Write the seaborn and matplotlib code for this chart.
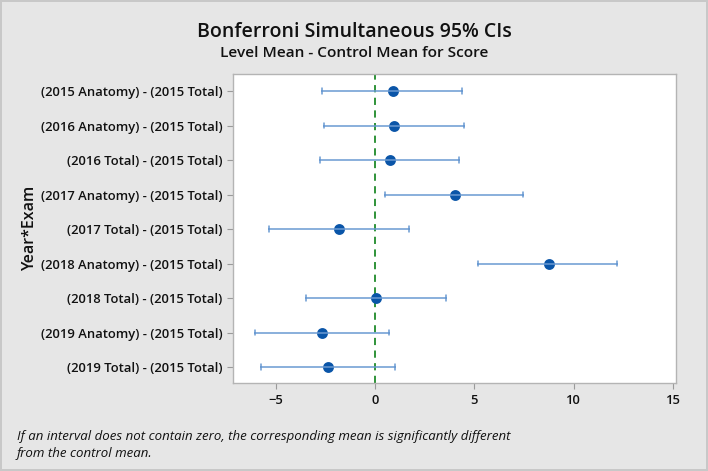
import seaborn as sns
import pandas as pd
import matplotlib.pyplot as plt

comparisons = [
    "(2015 Anatomy) - (2015 Total)",
    "(2016 Anatomy) - (2015 Total)",
    "(2016 Total) - (2015 Total)",
    "(2017 Anatomy) - (2015 Total)",
    "(2017 Total) - (2015 Total)",
    "(2018 Anatomy) - (2015 Total)",
    "(2018 Total) - (2015 Total)",
    "(2019 Anatomy) - (2015 Total)",
    "(2019 Total) - (2015 Total)",
]
means = [0.92, 0.94, 0.75, 4.04, -1.80, 8.74, 0.05, -2.65, -2.35]
lower = [-2.65, -2.58, -2.77, 0.52, -5.32, 5.20, -3.46, -6.04, -5.75]
upper = [4.39, 4.48, 4.24, 7.45, 1.71, 12.19, 3.56, 0.69, 1.02]

# long table: median of (lower, mean, upper) is the mean, the 100% interval is lower..upper
df = pd.DataFrame({
    "Year*Exam": comparisons * 3,
    "value": lower + means + upper,
})

bg = "#e6e6e6"
ink = "#111111"
sns.set_style("white", {"text.color": ink, "axes.labelcolor": ink,
                        "xtick.color": ink, "ytick.color": ink})
plt.rcParams["font.family"] = ["Open Sans", "DejaVu Sans"]

fig = plt.figure(figsize=(7.08, 4.71), dpi=100, facecolor=bg,
                 edgecolor="#c8c8c8", linewidth=1.5)
ax = fig.add_axes([0.3287, 0.1862, 0.6261, 0.6567])

sns.pointplot(data=df, x="value", y="Year*Exam", order=comparisons,
              estimator="median", errorbar=("pi", 100), linestyle="none",
              color="#0a55a8", markersize=5.8, capsize=0.16,
              err_kws={"color": "#6a9ad2", "linewidth": 1.1}, ax=ax)

ax.axvline(0, color="#1f8a2a", linestyle=(0, (4, 3)), linewidth=1.3, zorder=1)

ax.set_xlim(-7.16, 15.15)
ax.set_ylim(8.47, -0.5)
ax.set_xticks([-5, 0, 5, 10, 15])
ax.set_xlabel("")
ax.set_ylabel("Year*Exam", fontsize=11.5, fontweight="semibold")
ax.yaxis.set_label_coords(-0.44, 0.5)
ax.tick_params(axis="both", length=4, width=0.8, color="#9a9a9a",
               labelcolor=ink, labelsize=9.4, direction="out",
               bottom=True, left=True)
for lbl in ax.get_yticklabels() + ax.get_xticklabels():
    lbl.set_fontweight("semibold")
for sp in ax.spines.values():
    sp.set_color("#b4b4b4")
    sp.set_linewidth(1)

fig.text(0.5, 1 - 32 / 471, "Bonferroni Simultaneous 95% CIs", ha="center",
         va="center", fontsize=14, fontweight="semibold", color=ink)
fig.text(0.5, 1 - 53 / 471, "Level Mean - Control Mean for Score",
         ha="center", va="center", fontsize=11.1, fontweight="semibold", color=ink)
fig.text(0.024, 1 - 445 / 471,
         "If an interval does not contain zero, the corresponding mean is significantly different\n"
         "from the control mean.",
         ha="left", va="center", fontsize=9.5, style="italic", linespacing=1.4,
         color=ink)

fig.savefig("out.png", dpi=100, facecolor=bg, edgecolor="#c8c8c8")
